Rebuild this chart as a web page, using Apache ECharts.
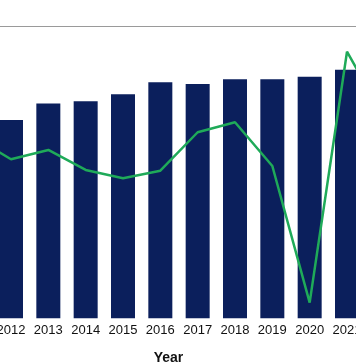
<!DOCTYPE html>
<html>
<head>
<meta charset="utf-8">
<script src="https://cdn.jsdelivr.net/npm/echarts@6/dist/echarts.min.js"></script>
<style>
html,body{margin:0;padding:0;background:#fff;overflow:hidden;width:356px;height:364px;}
#c{width:448px;height:364px;margin-left:-45.3px;}
</style>
</head>
<body>
<div id="c"></div>
<script>
var years = ['2011','2012','2013','2014','2015','2016','2017','2018','2019','2020','2021','2022'];
var barValues = [null, 203.5, 220.5, 222.8, 229.9, 242.2, 240.5, 245.3, 245.3, 248.0, 255.2, null];
var lineValues = [2.41, 0.88, 1.52, 0.15, -0.42, 0.10, 2.73, 3.41, 0.42, -8.93, 8.24, 3.7];

var chart = echarts.init(document.getElementById('c'), null, {renderer: 'canvas'});
chart.setOption({
  animation: false,
  backgroundColor: '#ffffff',
  grid: {left: 0, right: 0, top: 26, bottom: 45.7, containLabel: false, outerBoundsMode: 'none'},
  xAxis: {
    type: 'category',
    data: years,
    axisLine: {show: false},
    axisTick: {show: false},
    axisLabel: {
      color: '#111', fontSize: 13, fontFamily: 'Liberation Sans', margin: 6, interval: 0
    },
    name: 'Year',
    nameLocation: 'middle',
    nameGap: 33,
    nameTextStyle: {
      color: '#111', fontSize: 14, fontWeight: 'bold', fontFamily: 'Liberation Sans',
      padding: [0, 21, 0, 0]
    }
  },
  yAxis: [
    {
      type: 'value', min: 0, max: 300, interval: 300,
      axisLabel: {show: false}, axisLine: {show: false}, axisTick: {show: false},
      splitLine: {show: true, lineStyle: {color: ['rgba(0,0,0,0)', '#9a9a9a'], width: 1}}
    },
    {
      type: 'value', min: -10, max: 10,
      axisLabel: {show: false}, axisLine: {show: false}, axisTick: {show: false},
      splitLine: {show: false}
    }
  ],
  series: [
    {
      type: 'bar',
      data: barValues,
      barWidth: 24,
      itemStyle: {color: '#0b1f5c'}
    },
    {
      type: 'line',
      yAxisIndex: 1,
      data: lineValues,
      showSymbol: false,
      symbol: 'none',
      lineStyle: {color: '#1faa59', width: 2.5},
      z: 5
    }
  ]
});
</script>
</body>
</html>
